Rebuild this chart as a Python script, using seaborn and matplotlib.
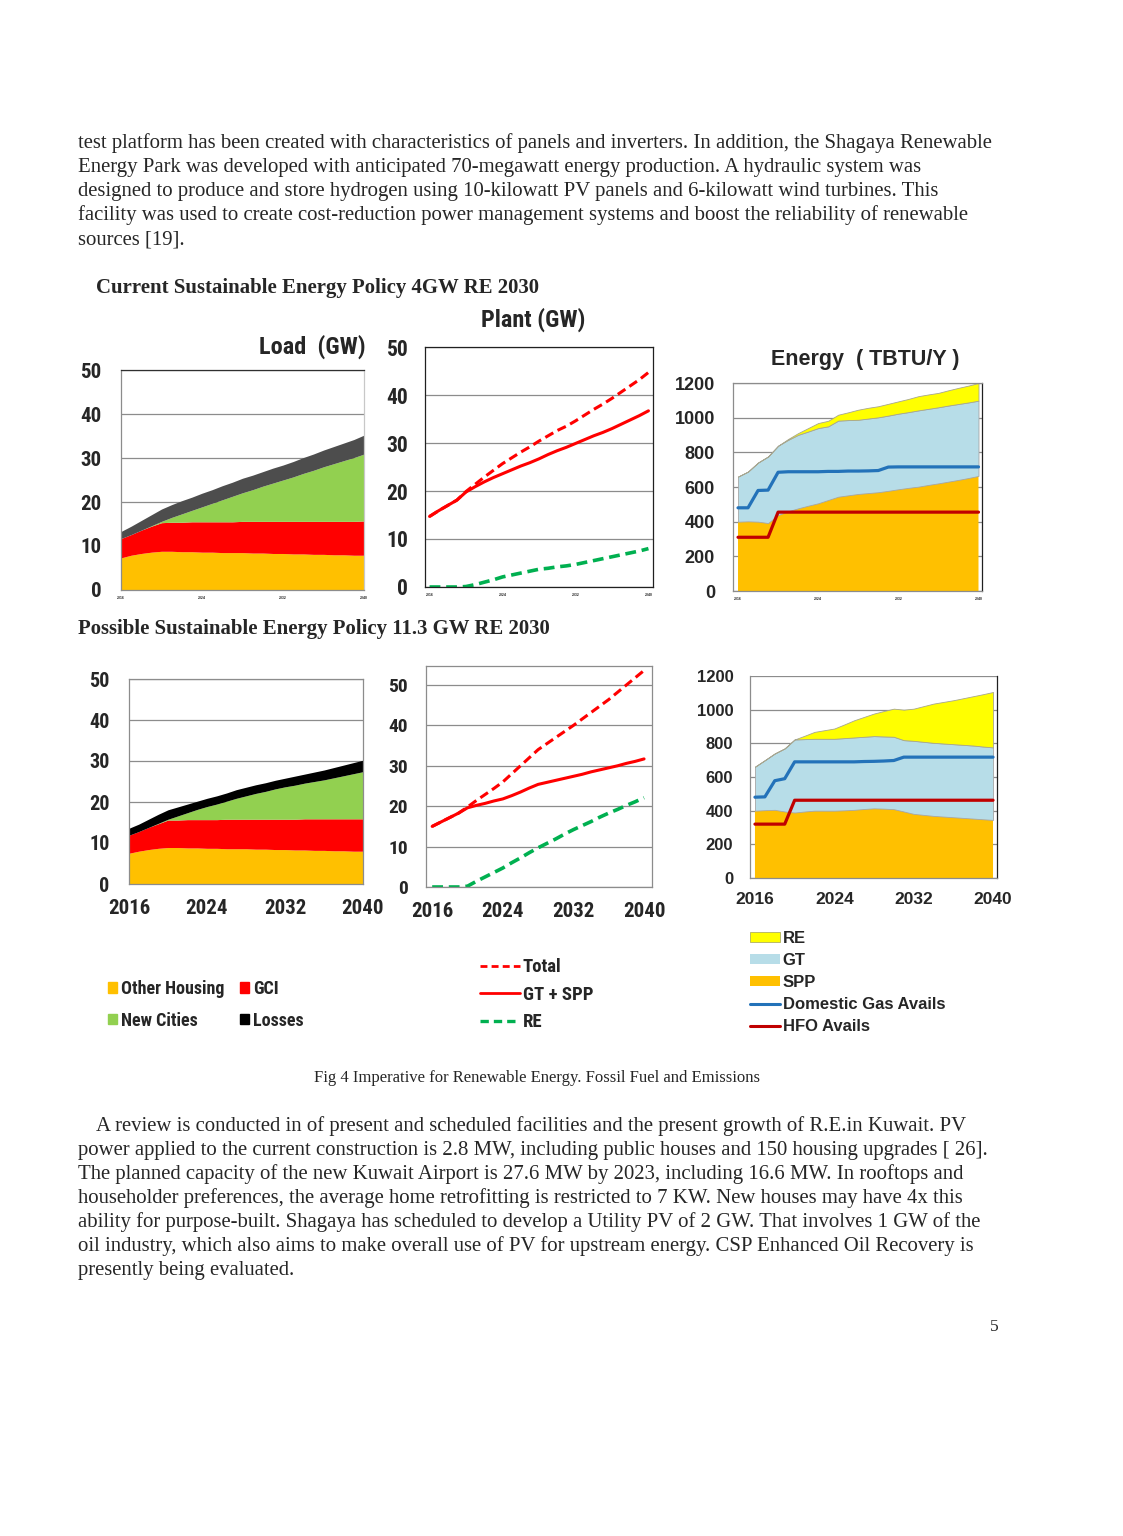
import numpy as np
import pandas as pd
import matplotlib.pyplot as plt
import seaborn as sns
from matplotlib import font_manager as fm
from matplotlib.patches import Patch
from matplotlib.lines import Line2D

sns.set_style("white")

ARIAL = ['Liberation Sans', 'DejaVu Sans']
SERIF = ['Liberation Serif', 'DejaVu Serif']
plt.rcParams['font.family'] = ARIAL

# the chart panels use a narrow bold face; take one if it is installed
_names = {f.name for f in fm.fontManager.ttflist}
NARROW, NS = ARIAL, 0.85
for cand in ['Liberation Sans Narrow', 'Arial Narrow', 'Roboto Condensed', 'Open Sans Condensed']:
    if cand in _names:
        NARROW, NS = [cand] + ARIAL, 1.0
        break

years = list(range(2016, 2041))

# ---- Load (GW) ----
cur_other_housing = [7.3, 7.9, 8.3, 8.6, 8.8, 8.8, 8.7, 8.7, 8.6, 8.6, 8.5, 8.5, 8.5,
                     8.4, 8.4, 8.3, 8.3, 8.2, 8.2, 8.1, 8.1, 8.0, 8.0, 7.9, 7.9]
cur_gci = [4.4, 4.7, 5.3, 5.9, 6.5, 6.6, 6.7, 6.8, 6.9, 6.9, 7.0, 7.0, 7.1,
           7.2, 7.2, 7.3, 7.3, 7.4, 7.4, 7.5, 7.5, 7.6, 7.6, 7.7, 7.8]
cur_new_cities = [0, 0, 0, 0.1, 0.3, 1.1, 1.9, 2.6, 3.4, 4.2, 5.0, 5.8, 6.5,
                  7.2, 8.0, 8.7, 9.4, 10.1, 10.9, 11.6, 12.4, 13.1, 13.8, 14.5, 15.2]
cur_losses = [1.6, 1.9, 2.2, 2.5, 2.8, 2.9, 3.0, 3.0, 3.1, 3.1, 3.2, 3.2, 3.3,
              3.3, 3.3, 3.4, 3.4, 3.5, 3.6, 3.7, 3.8, 3.9, 4.0, 4.1, 4.3]

pos_other_housing = [7.5, 8.0, 8.4, 8.7, 8.9, 8.9, 8.8, 8.8, 8.7, 8.7, 8.6, 8.6, 8.6,
                     8.5, 8.5, 8.4, 8.4, 8.3, 8.3, 8.2, 8.2, 8.1, 8.1, 8.0, 8.0]
pos_gci = [4.4, 4.8, 5.4, 6.0, 6.7, 6.7, 6.9, 6.9, 7.0, 7.0, 7.2, 7.2, 7.2,
           7.3, 7.3, 7.4, 7.4, 7.5, 7.6, 7.7, 7.7, 7.8, 7.8, 7.9, 7.9]
pos_new_cities = [0, 0, 0, 0.1, 0.2, 1.0, 1.7, 2.5, 3.2, 3.8, 4.4, 5.1, 5.7,
                  6.3, 6.8, 7.4, 7.9, 8.3, 8.7, 9.1, 9.5, 10.0, 10.5, 11.0, 11.5]
pos_losses = [1.7, 1.8, 2.0, 2.2, 2.3, 2.2, 2.1, 2.0, 2.0, 2.0, 2.0, 2.1, 2.1,
              2.1, 2.1, 2.1, 2.1, 2.2, 2.2, 2.3, 2.4, 2.5, 2.6, 2.7, 2.8]

# ---- Plant (GW) ----
cur_total = [14.7, 15.9, 17.0, 18.1, 19.9, 21.4, 22.9, 24.3, 25.7, 26.9, 28.1, 29.2, 30.4,
             31.5, 32.6, 33.5, 34.6, 35.8, 37.0, 38.1, 39.3, 40.6, 41.9, 43.2, 44.7]
cur_gt_spp = [14.7, 15.9, 17.0, 18.1, 19.8, 20.9, 21.9, 22.8, 23.6, 24.4, 25.2, 25.9, 26.7,
              27.6, 28.4, 29.1, 29.9, 30.7, 31.5, 32.2, 33.0, 33.9, 34.8, 35.7, 36.7]
cur_re = [0, 0, 0, 0, 0.1, 0.5, 1.0, 1.5, 2.1, 2.5, 2.9, 3.3, 3.7,
          3.9, 4.2, 4.4, 4.7, 5.1, 5.5, 5.9, 6.3, 6.7, 7.1, 7.5, 8.0]

pos_total = [15.0, 16.1, 17.2, 18.3, 19.8, 21.4, 22.9, 24.4, 26.0, 28.0, 30.0, 32.0, 34.0,
             35.5, 37.0, 38.5, 40.0, 41.6, 43.2, 44.8, 46.4, 48.2, 50.0, 51.8, 53.6]
pos_gt_spp = [15.0, 16.1, 17.2, 18.3, 19.6, 20.2, 20.7, 21.3, 21.8, 22.6, 23.5, 24.5, 25.4,
              25.9, 26.4, 26.9, 27.4, 27.9, 28.5, 29.0, 29.5, 30.0, 30.6, 31.1, 31.7]
pos_re = [0, 0, 0, 0, 0.2, 1.4, 2.5, 3.6, 4.7, 6.0, 7.2, 8.5, 9.7,
          10.8, 11.9, 13.1, 14.2, 15.2, 16.2, 17.3, 18.3, 19.2, 20.2, 21.1, 22.1]

# ---- Energy (TBTU/Y) ----
cur_spp = [400, 402, 400, 392, 438, 460, 477, 492, 506, 525, 544, 552, 560,
           565, 570, 578, 587, 595, 602, 612, 621, 631, 641, 652, 664]
cur_gt = [260, 287, 341, 384, 400, 412, 424, 428, 434, 425, 439, 434, 428,
          430, 432, 434, 436, 437, 440, 439, 439, 439, 438, 436, 434]
cur_re_e = [0, 0, 0, 0, 0, 5, 10, 20, 29, 32, 34, 45, 58,
            62, 64, 68, 71, 76, 82, 83, 83, 88, 93, 97, 102]
cur_gas = [480, 480, 580, 582, 685, 688, 688, 688, 688, 690, 690, 692, 692,
           693, 695, 715, 716, 716, 716, 716, 716, 716, 716, 716, 716]
cur_hfo = [310, 310, 310, 310, 455, 455, 455, 455, 455, 455, 455, 455, 455,
           455, 455, 455, 455, 455, 455, 455, 455, 455, 455, 455, 455]

pos_spp = [400, 403, 405, 395, 389, 395, 400, 400, 400, 402, 405, 410, 414,
           412, 409, 395, 381, 375, 369, 365, 361, 357, 353, 349, 345]
pos_gt = [261, 297, 335, 375, 434, 430, 427, 427, 427, 429, 430, 429, 429,
          429, 430, 424, 434, 434, 434, 434, 434, 434, 434, 432, 431]
pos_re_e = [0, 0, 0, 0, 0, 20, 41, 51, 61, 81, 102, 118, 134,
            151, 167, 181, 191, 212, 233, 247, 261, 277, 293, 311, 329]
pos_gas = [480, 482, 578, 590, 690, 690, 690, 690, 690, 690, 690, 692, 693,
           695, 698, 718, 718, 718, 718, 718, 718, 718, 718, 718, 718]
pos_hfo = [320, 320, 320, 320, 462, 462, 462, 462, 462, 462, 462, 462, 462,
           462, 462, 462, 462, 462, 462, 462, 462, 462, 462, 462, 462]

C_ORANGE = '#FFC000'
C_RED = '#FF0000'
C_GREEN = '#92D050'
C_GT = '#B7DDE8'
C_YELLOW = '#FFFF00'
C_BLUE = '#2372B9'
C_HFO = '#C00000'
C_REL = '#00B050'

W, H = 1123, 1536
fig = plt.figure(figsize=(W / 100, H / 100), dpi=100)


def px_axes(x0, y0, x1, y1):
    return fig.add_axes([x0 / W, 1 - y1 / H, (x1 - x0) / W, (y1 - y0) / H])


def ftext(x, y, s, **kw):
    fig.text(x / W, 1 - y / H, s, **kw)


def style(ax, ylim, yticks, xlim, yfont, ysize, xsize, xfont, ypad, xpad):
    ax.set_xlim(*xlim)
    ax.set_ylim(*ylim)
    ax.set_yticks(yticks)
    ax.set_yticklabels([str(t) for t in yticks])
    xt = list(range(2016, 2041, 4))
    ax.set_xticks(xt)
    ax.set_xticklabels([str(t) if (t - 2016) % 8 == 0 else '' for t in xt])
    ax.grid(axis='y', color='#8C8C8C', lw=0.9)
    ax.grid(axis='x', visible=False)
    ax.set_axisbelow(True)
    ax.tick_params(axis='y', length=3, color='#8C8C8C', pad=ypad, labelsize=ysize)
    ax.tick_params(axis='x', length=3, color='#8C8C8C', pad=xpad, labelsize=xsize)
    for lbl in ax.get_yticklabels():
        lbl.set_family(yfont)
        lbl.set_fontweight('bold')
    for lbl in ax.get_xticklabels():
        lbl.set_family(xfont)
        lbl.set_fontweight('bold')
    for sp in ax.spines.values():
        sp.set_color('#8C8C8C')
        sp.set_linewidth(0.9)
    ax.set_xlabel('')
    ax.set_ylabel('')


def draw_load(ax, other, gci, nc, losses, loss_color):
    ax.stackplot(years, other, gci, nc, losses,
                 colors=[C_ORANGE, C_RED, C_GREEN, loss_color], linewidth=0)


def draw_plant(ax, total, gt_spp, re):
    df = pd.DataFrame({'year': years, 'total': total, 'gt_spp': gt_spp, 're': re})
    sns.lineplot(data=df, x='year', y='total', ax=ax, color=C_RED, lw=2.2,
                 linestyle=(0, (3, 1.6)))
    sns.lineplot(data=df, x='year', y='gt_spp', ax=ax, color=C_RED, lw=2.2)
    sns.lineplot(data=df, x='year', y='re', ax=ax, color=C_REL, lw=2.6,
                 linestyle=(0, (3, 1.6)))


def draw_energy(ax, spp, gt, re, gas, hfo):
    polys = ax.stackplot(years, spp, gt, re, colors=[C_ORANGE, C_GT, C_YELLOW])
    polys[0].set_edgecolor('none')
    polys[1].set_edgecolor('#A6A6A6')
    polys[1].set_linewidth(0.6)
    polys[2].set_edgecolor('#A6A690')
    polys[2].set_linewidth(0.6)
    df = pd.DataFrame({'year': years, 'gas': gas, 'hfo': hfo})
    sns.lineplot(data=df, x='year', y='gas', ax=ax, color=C_BLUE, lw=2.3)
    sns.lineplot(data=df, x='year', y='hfo', ax=ax, color=C_HFO, lw=2.3)


# ---------------- top row: current policy ----------------
ax1 = px_axes(121, 370, 364, 590)
draw_load(ax1, cur_other_housing, cur_gci, cur_new_cities, cur_losses, '#4D4D4D')
style(ax1, (0, 50), [0, 10, 20, 30, 40, 50], (2016, 2040), NARROW, 15 * NS, 2.5, ARIAL, 11, 1)
ax1.spines['top'].set_color('#303030')
ax1.spines['right'].set_color('#C8C8C8')
ftext(366, 347, 'Load  (GW)', ha='right', va='center', fontsize=17.5 * NS,
      family=NARROW, fontweight='bold')

ax2 = px_axes(425, 347, 653, 587)
draw_plant(ax2, cur_total, cur_gt_spp, cur_re)
style(ax2, (0, 50), [0, 10, 20, 30, 40, 50], (2015.5, 2040.5), NARROW, 15.5 * NS, 2.5, ARIAL, 9, 1)
for sp in ax2.spines.values():
    sp.set_color('#202020')
ftext(533, 320, 'Plant (GW)', ha='center', va='center', fontsize=17.5 * NS,
      family=NARROW, fontweight='bold')

ax3 = px_axes(733, 383, 982, 591)
draw_energy(ax3, cur_spp, cur_gt, cur_re_e, cur_gas, cur_hfo)
style(ax3, (0, 1200), [0, 200, 400, 600, 800, 1000, 1200], (2015.5, 2040.35),
      ARIAL, 13, 2.5, ARIAL, 10, 1)
ax3.spines['right'].set_color('#202020')
ftext(865, 360, 'Energy  ( TBTU/Y )', ha='center', va='center', fontsize=15.5,
      family=ARIAL, fontweight='bold')

# ---------------- bottom row: possible policy ----------------
ax4 = px_axes(129, 679, 363, 884)
draw_load(ax4, pos_other_housing, pos_gci, pos_new_cities, pos_losses, '#000000')
style(ax4, (0, 50), [0, 10, 20, 30, 40, 50], (2016, 2040), NARROW, 14.5 * NS, 15 * NS,
      NARROW, 11, 8)

ax5 = px_axes(426, 666, 652, 887)
draw_plant(ax5, pos_total, pos_gt_spp, pos_re)
style(ax5, (0, 54.7), [0, 10, 20, 30, 40, 50], (2015.3, 2040.9), NARROW, 14 * NS, 15 * NS,
      NARROW, 10, 8)

ax6 = px_axes(750, 676, 997, 878)
draw_energy(ax6, pos_spp, pos_gt, pos_re_e, pos_gas, pos_hfo)
style(ax6, (0, 1200), [0, 200, 400, 600, 800, 1000, 1200], (2015.5, 2040.4),
      ARIAL, 12, 12.5, ARIAL, 9, 7)
ax6.spines['right'].set_color('#202020')
ax6.spines['top'].set_visible(False)

# ---------------- legends ----------------
load_handles = [Patch(color=C_ORANGE, label='Other Housing'),
                Patch(color=C_GREEN, label='New Cities'),
                Patch(color=C_RED, label='GCI'),
                Patch(color='#000000', label='Losses')]
fig.legend(handles=load_handles, loc='upper left', bbox_to_anchor=(99 / W, 1 - 971 / H),
           ncol=2, frameon=False, handlelength=0.5, handleheight=0.5,
           handletextpad=0.2, columnspacing=0.9, labelspacing=0.75, borderpad=0,
           prop={'family': NARROW, 'weight': 'bold', 'size': 13 * NS})

plant_handles = [Line2D([], [], color=C_RED, lw=2, linestyle=(0, (2.5, 1.5)), label='Total'),
                 Line2D([], [], color=C_RED, lw=2, label='GT + SPP'),
                 Line2D([], [], color=C_REL, lw=2.4, linestyle=(0, (2.5, 1.5)), label='RE')]
fig.legend(handles=plant_handles, loc='upper left', bbox_to_anchor=(471 / W, 1 - 949 / H),
           frameon=False, handlelength=2.1, handletextpad=0.15, labelspacing=0.5,
           borderpad=0, prop={'family': NARROW, 'weight': 'bold', 'size': 13.5 * NS})

energy_handles = [Patch(facecolor=C_YELLOW, edgecolor='#B0B060', lw=0.6, label='RE'),
                  Patch(facecolor=C_GT, edgecolor='none', label='GT'),
                  Patch(facecolor=C_ORANGE, edgecolor='none', label='SPP'),
                  Line2D([], [], color=C_BLUE, lw=2.2, label='Domestic Gas Avails'),
                  Line2D([], [], color=C_HFO, lw=2.2, label='HFO Avails')]
fig.legend(handles=energy_handles, loc='upper left', bbox_to_anchor=(742 / W, 1 - 923 / H),
           frameon=False, handlelength=1.8, handleheight=0.55, handletextpad=0.15,
           labelspacing=0.42, borderpad=0,
           prop={'family': ARIAL, 'weight': 'bold', 'size': 12})

# ---------------- page text ----------------
body_top = [
    "test platform has been created with characteristics of panels and inverters. In addition, the Shagaya Renewable",
    "Energy Park was developed with anticipated 70-megawatt energy production. A hydraulic system was",
    "designed to produce and store hydrogen using 10-kilowatt PV panels and 6-kilowatt wind turbines. This",
    "facility was used to create cost-reduction power management systems and boost the reliability of renewable",
    "sources [19].",
]
body_bottom = [
    "A review is conducted in of present and scheduled facilities and the present growth of R.E.in Kuwait. PV",
    "power applied to the current construction is 2.8 MW, including public houses and 150 housing upgrades [ 26].",
    "The planned capacity of the new Kuwait Airport is 27.6 MW by 2023, including 16.6 MW. In rooftops and",
    "householder preferences, the average home retrofitting is restricted to 7 KW. New houses may have 4x this",
    "ability for purpose-built. Shagaya has scheduled to develop a Utility PV of 2 GW. That involves 1 GW of the",
    "oil industry, which also aims to make overall use of PV for upstream energy. CSP Enhanced Oil Recovery is",
    "presently being evaluated.",
]
BODY = 14.95
for i, line in enumerate(body_top):
    ftext(78, 148 + 24 * i, line, ha='left', va='baseline', fontsize=BODY, family=SERIF)
for i, line in enumerate(body_bottom):
    ftext(96 if i == 0 else 78, 1131 + 24 * i, line, ha='left', va='baseline',
          fontsize=BODY, family=SERIF)

ftext(96, 293, 'Current Sustainable Energy Policy 4GW RE 2030', ha='left', va='baseline',
      fontsize=BODY, family=SERIF, fontweight='bold')
ftext(78, 634, 'Possible Sustainable Energy Policy 11.3 GW RE 2030', ha='left', va='baseline',
      fontsize=BODY, family=SERIF, fontweight='bold')
ftext(537, 1082, 'Fig 4 Imperative for Renewable Energy. Fossil Fuel and Emissions',
      ha='center', va='baseline', fontsize=12, family=SERIF)
ftext(994, 1331, '5', ha='center', va='baseline', fontsize=12.5, family=SERIF)

fig.savefig('out.png', dpi=100, facecolor='white')
